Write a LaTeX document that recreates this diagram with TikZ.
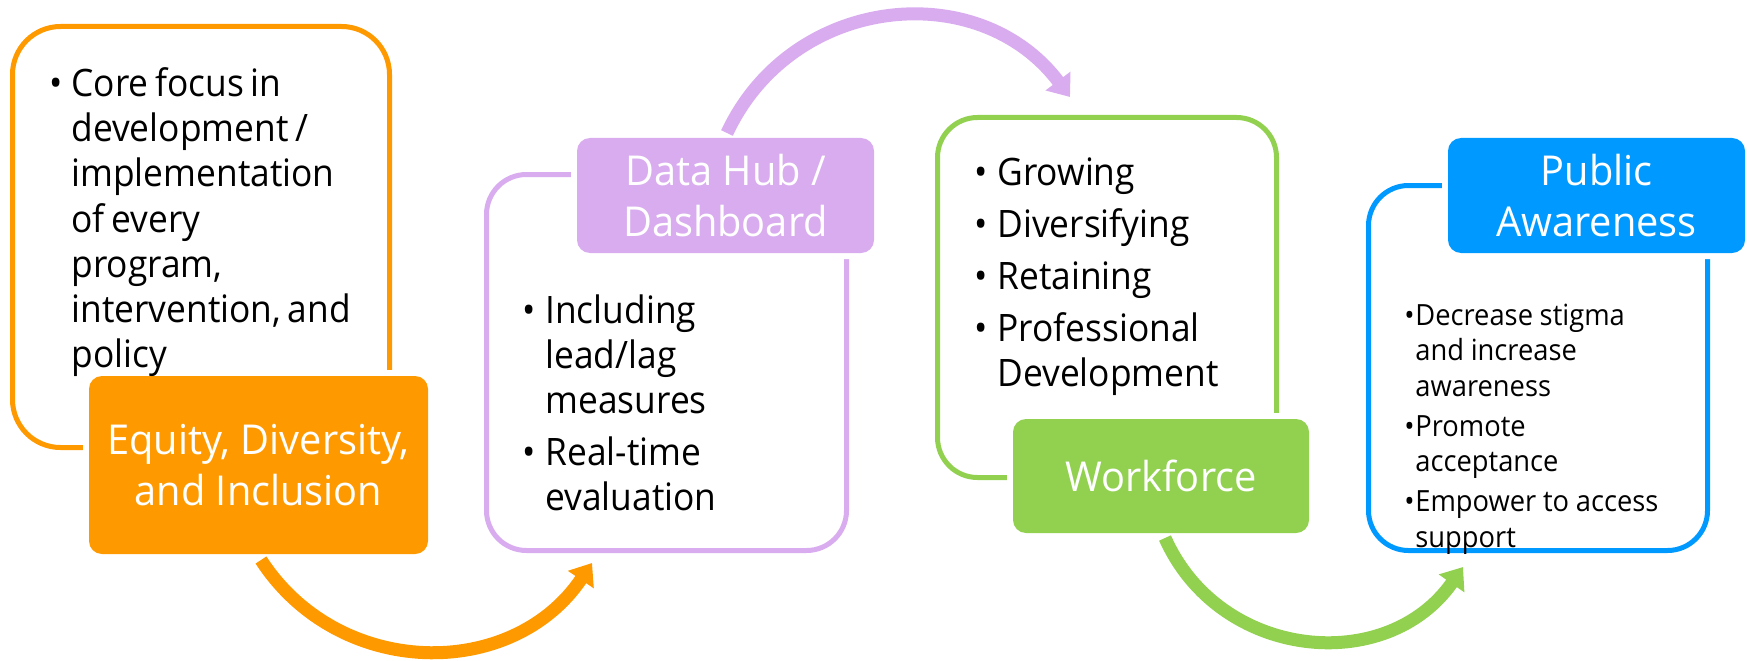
\documentclass[tikz,border=0pt]{standalone}
\usepackage{fontspec}
\setmainfont[FakeStretch=0.935]{Open Sans}
\newfontfamily\headfam[FakeStretch=0.965]{Open Sans}
\usetikzlibrary{arrows.meta}

\definecolor{ediorange}{HTML}{FF9900}
\definecolor{dhpurple}{HTML}{D8ACEE}
\definecolor{wfgreen}{HTML}{92D050}
\definecolor{pablue}{HTML}{0099FF}

\newcommand\bodyfont{\fontsize{18.9pt}{22.5pt}\selectfont}
\newcommand\smallbody{\fontsize{14.6pt}{17.75pt}\selectfont}
\newcommand\headfont{\headfam\fontsize{20.6pt}{25.5pt}\selectfont}

\newlength\bulind
\newcommand\bitem[1]{\hangindent=\bulind\hangafter=1\noindent\makebox[\bulind][l]{\textbullet}#1\par}

\begin{document}
\begin{tikzpicture}
    [x=0.5pt, y=0.5pt,
     outline/.style={draw=#1, line width=2.5pt, rounded corners=20pt, inner sep=0pt, outer sep=0pt},
     filled/.style={fill=#1, rounded corners=6.5pt, preaction={draw=white, line width=6pt},
                    text=white, align=center, inner sep=0pt, outer sep=0pt, font=\headfont},
     items/.style={anchor=base west, inner sep=0pt, text width=175pt, align=left},
     flow/.style={draw=#1, line width=6.5pt, -{Triangle[width=15pt,length=10pt]}}]
    \useasboundingbox (0,0) rectangle (1748,660);

    % frames behind the headings
    \node[outline=ediorange, rounded corners=24pt, minimum width=188.5pt, minimum height=210.5pt] (ediout) at (201,423) {};
    \node[outline=dhpurple, minimum width=180pt, minimum height=188pt] (dhout) at (666.5,297.5) {};
    \node[outline=wfgreen, minimum width=169.5pt, minimum height=180pt] (wfout) at (1107,362.5) {};
    \node[outline=pablue, minimum width=169.5pt, minimum height=182.5pt] (paout) at (1538,292) {};

    % headings
    \node[filled=ediorange, minimum width=169.5pt, minimum height=89pt] (edi) at (258.5,195) {Equity, Diversity,\\and Inclusion};
    \node[filled=dhpurple, minimum width=148.5pt, minimum height=57.5pt] (dh) at (725.5,464.5) {Data Hub /\\Dashboard};
    \node[filled=wfgreen, minimum width=148pt, minimum height=57pt] (wf) at (1161,184) {Workforce};
    \node[filled=pablue, minimum width=148.5pt, minimum height=57.5pt] (pa) at (1596.5,464.5) {Public\\Awareness};

    % bullet lists
    \node[items] (edilist) at (49,563) {\bodyfont\setlength\parskip{3.5pt}\setlength\bulind{11pt}%
        \bitem{Core focus in\newline development /\newline implementation\newline of every\newline program,\newline intervention, and\newline policy}};
    \node[items] (dhlist) at (522,336.7) {\bodyfont\setlength\parskip{3.5pt}\setlength\bulind{11.5pt}%
        \bitem{Including\newline lead/lag\newline measures}%
        \bitem{Real-time\newline evaluation}};
    \node[items] (wflist) at (974,475) {\bodyfont\setlength\parskip{3.5pt}\setlength\bulind{11.5pt}%
        \bitem{Growing}\bitem{Diversifying}\bitem{Retaining}%
        \bitem{Professional\newline Development}};
    \node[items] (palist) at (1404,335) {\smallbody\setlength\parskip{2.25pt}\setlength\bulind{5.5pt}%
        \bitem{Decrease stigma\newline and increase\newline awareness}%
        \bitem{Promote\newline acceptance}%
        \bitem{Empower to access\newline support}};

    % curved arrows between the steps
    \draw[flow=ediorange] ([xshift=1.25pt,yshift=-3pt]edi.south)
        to[out=-57, in=-124, looseness=1.1] ([xshift=52.75pt,yshift=-6.25pt]dhout.south west);
    \draw[flow=dhpurple] ([xshift=0.75pt,yshift=2.5pt]dh.north)
        to[out=65, in=127, looseness=1.13] ([xshift=66.25pt,yshift=10.25pt]wfout.north west);
    \draw[flow=wfgreen] ([xshift=2pt,yshift=-2.5pt]wf.south)
        to[out=-66, in=-125, looseness=1.14] ([xshift=47.25pt,yshift=-8.25pt]paout.south west);
\end{tikzpicture}
\end{document}
